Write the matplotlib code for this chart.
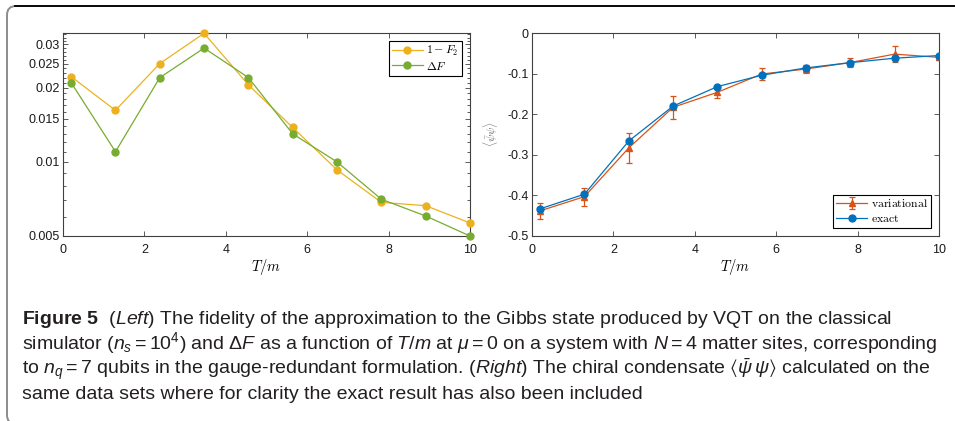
import matplotlib
matplotlib.use('Agg')
import matplotlib.pyplot as plt
from matplotlib.ticker import FixedLocator, FixedFormatter, NullFormatter
from matplotlib.patches import FancyBboxPatch
from matplotlib.lines import Line2D
from matplotlib.transforms import IdentityTransform
from matplotlib.font_manager import FontProperties

plt.rcParams['font.family'] = ['Liberation Sans', 'DejaVu Sans']
plt.rcParams['mathtext.fontset'] = 'cm'
plt.rcParams['axes.unicode_minus'] = False
plt.rcParams['mathtext.rm'] = 'Liberation Sans'
plt.rcParams['mathtext.it'] = 'Liberation Sans:italic'
plt.rcParams['mathtext.bf'] = 'Liberation Sans:bold'
plt.rcParams['mathtext.fallback'] = 'stixsans'

# ---------------- data ----------------
T = [0.2, 1.289, 2.378, 3.467, 4.556, 5.644, 6.733, 7.822, 8.911, 10.0]
one_minus_F2 = [0.0222, 0.0162, 0.0251, 0.0333, 0.02055, 0.0138, 0.00928, 0.00685, 0.00664, 0.00565]
delta_F = [0.0210, 0.0110, 0.0220, 0.0290, 0.0220, 0.0130, 0.0100, 0.00705, 0.00603, 0.0050]
cond_var = [-0.438, -0.403, -0.283, -0.183, -0.146, -0.101, -0.0887, -0.0727, -0.052, -0.060]
cond_var_err = [0.020, 0.022, 0.037, 0.029, 0.0135, 0.015, 0.009, 0.010, 0.020, 0.006]
cond_exact = [-0.433, -0.397, -0.266, -0.180, -0.132, -0.104, -0.086, -0.073, -0.062, -0.0555]

left_yticks = [0.005, 0.01, 0.015, 0.02, 0.025, 0.03]
left_yticklabels = ['0.005', '0.01', '0.015', '0.02', '0.025', '0.03']
left_yminor = [0.005 + 0.001 * i for i in range(29)]
xticks = [0, 2, 4, 6, 8, 10]
right_yticks = [-0.5, -0.4, -0.3, -0.2, -0.1, 0]
right_yticklabels = ['-0.5', '-0.4', '-0.3', '-0.2', '-0.1', '0']

caption_lines = [
    r"$\mathbf{Figure\ 5}$  $\mathit{(Left)}$ The fidelity of the approximation to the Gibbs state produced by VQT on the classical",
    r"simulator ($n_s = 10^4$) and $\Delta F$ as a function of $T/m$ at $\mu = 0$ on a system with $N = 4$ matter sites, corresponding",
    r"to $n_q = 7$ qubits in the gauge-redundant formulation. $\mathit{(Right)}$ The chiral condensate $\langle\bar{\psi}\,\psi\rangle$ calculated on the",
    "same data sets where for clarity the exact result has also been included",
]

C_ORANGE = '#EDB120'
C_GREEN = '#77AC30'
C_RED = '#D95319'
C_BLUE = '#0072BD'
AX_COL = '#404040'

W, H = 955, 421
fig = plt.figure(figsize=(W / 100, H / 100), dpi=100, facecolor='white')

def px_axes(x0, x1, y0, y1):
    return fig.add_axes([x0 / W, 1 - y1 / H, (x1 - x0) / W, (y1 - y0) / H])

def style_axes(ax):
    for s in ax.spines.values():
        s.set_color(AX_COL)
        s.set_linewidth(0.8)
    ax.tick_params(which='both', direction='in', top=True, right=True,
                   colors=AX_COL, labelcolor='#1a1a1a', labelsize=9, width=0.6)
    ax.tick_params(which='major', length=3.5)
    ax.tick_params(which='minor', length=2)
    ax.tick_params(axis='x', pad=5.5)
    ax.tick_params(axis='y', pad=2.5)

# ---------------- left ----------------
ax1 = px_axes(63, 470, 33, 236)
ax1.plot(T, one_minus_F2, '-o', color=C_ORANGE, lw=0.9, ms=5, label=r'$1-F_2$', clip_on=False, zorder=3)
ax1.plot(T, delta_F, '-o', color=C_GREEN, lw=0.9, ms=5, label=r'$\Delta F$', clip_on=False, zorder=3)
ax1.set_yscale('log')
ax1.set_xlim(0, 10)
ax1.set_ylim(0.005, 0.0334)
ax1.yaxis.set_major_locator(FixedLocator(left_yticks))
ax1.yaxis.set_major_formatter(FixedFormatter(left_yticklabels))
ax1.yaxis.set_minor_locator(FixedLocator(left_yminor))
ax1.yaxis.set_minor_formatter(NullFormatter())
ax1.set_xticks(xticks)
ax1.set_xticklabels([str(v) for v in xticks])
style_axes(ax1)
ax1.set_xlabel(r'$T/m$', fontsize=10.5, labelpad=1)
leg1 = ax1.legend(loc='upper right', prop=FontProperties(size=8.5), frameon=True, fancybox=False,
                  edgecolor='black', framealpha=1, borderaxespad=0.65, handlelength=2.6,
                  handletextpad=0.3, labelspacing=0.2, borderpad=0.3)
leg1.get_frame().set_linewidth(0.8)

# ---------------- right ----------------
ax2 = px_axes(532, 939, 33, 236)
h_var = ax2.errorbar(T, cond_var, yerr=cond_var_err, fmt='-^', color=C_RED, lw=0.9, ms=5,
                     elinewidth=0.9, capsize=2.2, capthick=0.9, zorder=3)
h_ex, = ax2.plot(T, cond_exact, '-o', color=C_BLUE, lw=0.9, ms=5, zorder=4)
ax2.set_xlim(0, 10)
ax2.set_ylim(-0.5, 0)
ax2.set_xticks(xticks)
ax2.set_xticklabels([str(v) for v in xticks])
ax2.set_yticks(right_yticks)
ax2.set_yticklabels(right_yticklabels)
style_axes(ax2)
ax2.set_xlabel(r'$T/m$', fontsize=10.5, labelpad=1)
ax2.set_ylabel(r'$\langle\bar{\psi}\psi\rangle$', fontsize=8, color='#666666', labelpad=5)
leg2 = ax2.legend([h_var, h_ex], [r'$\mathrm{variational}$', r'$\mathrm{exact}$'],
                  loc='lower right', prop=FontProperties(size=8.5), frameon=True, fancybox=False,
                  edgecolor='black', framealpha=1, borderaxespad=0.65, handlelength=2.6,
                  handletextpad=0.3, labelspacing=0.2, borderpad=0.3)
leg2.get_frame().set_linewidth(0.8)

# ---------------- frame ----------------
box = FancyBboxPatch((7, -3), 980, H - 6 + 3, boxstyle='round,pad=0,rounding_size=9',
                     transform=IdentityTransform(), fc='none', ec='#8c8c8c', lw=1.4)
fig.add_artist(box)
fig.add_artist(Line2D([15, W + 5], [H - 6, H - 6], transform=IdentityTransform(), color='black', lw=1.3))

# ---------------- caption ----------------
baselines = [324, 349, 374, 399]
for line, yb in zip(caption_lines, baselines):
    fig.text(22 / W, 1 - yb / H, line, fontsize=14, color='#231f20', va='baseline', ha='left',
             math_fontfamily='custom')

fig.savefig('out.png', dpi=100, facecolor='white')
